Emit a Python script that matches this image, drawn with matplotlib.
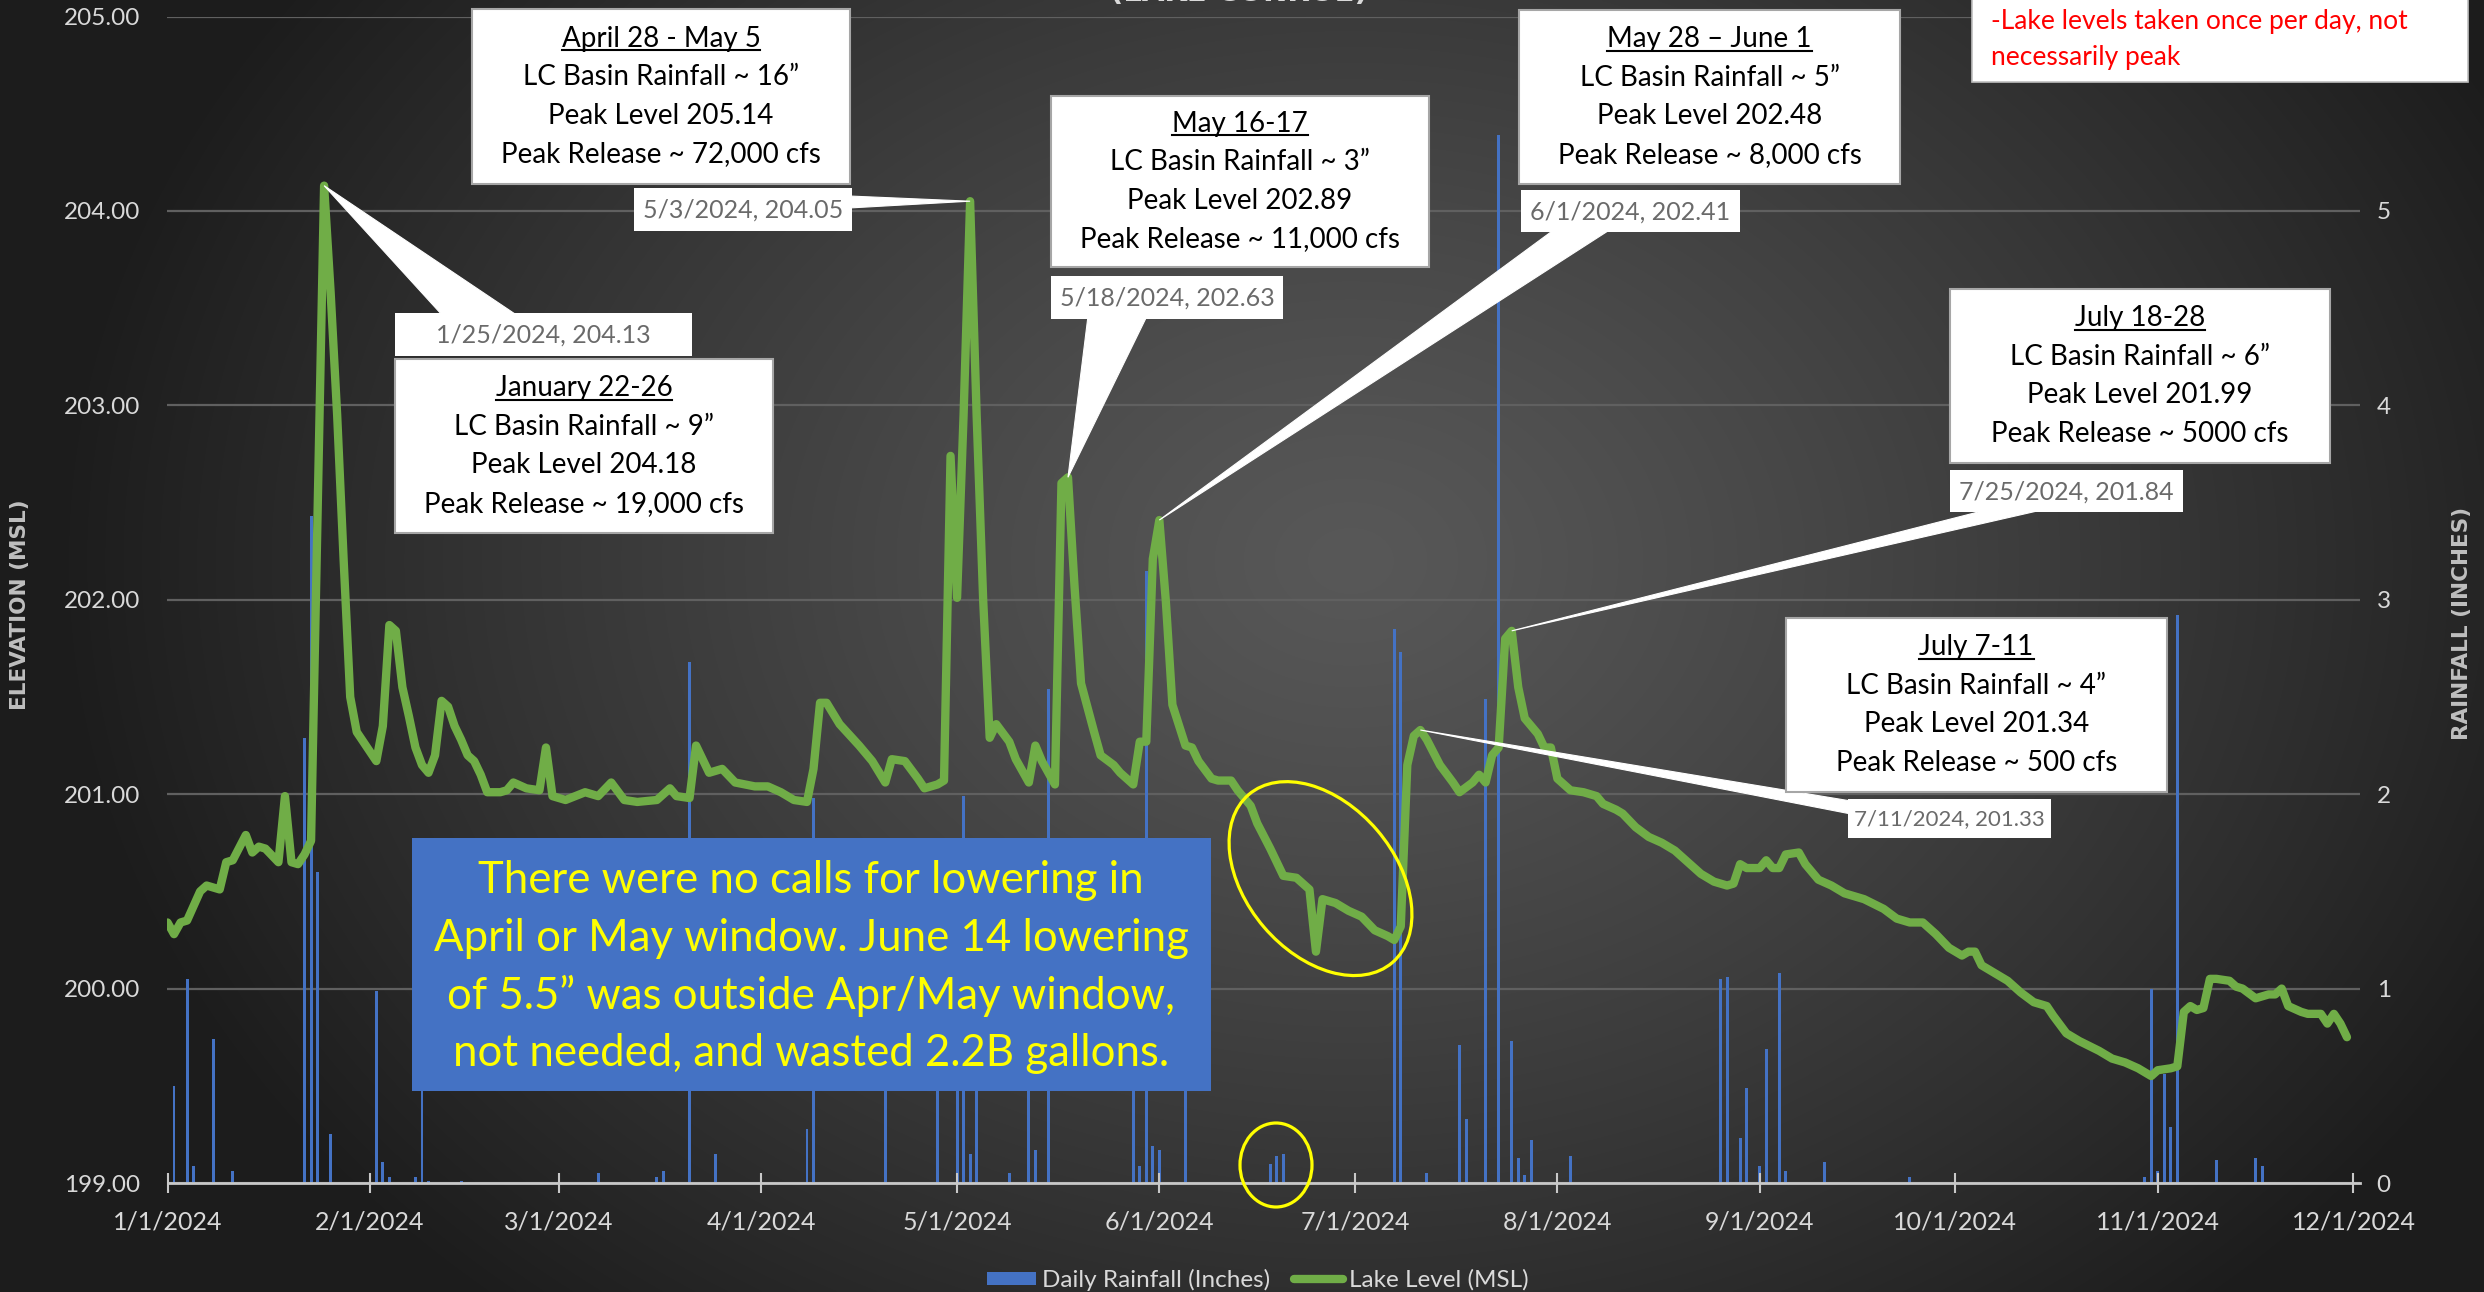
import numpy as np
import pandas as pd
import matplotlib
matplotlib.use("Agg")
import matplotlib.pyplot as plt
import matplotlib.dates as mdates
from matplotlib.patches import Rectangle, Polygon, Ellipse
from matplotlib.lines import Line2D

plt.rcParams['font.family'] = ['Lato', 'DejaVu Sans']

W, H, DPI = 2484, 1292, 100

# ---------------- data ----------------
start = pd.Timestamp('2024-01-01')

# Lake level (MSL) readings, day offset from 1/1/2024
level_day = [0, 1, 2, 3, 5, 6, 8, 9, 10, 12, 13, 14, 15, 17, 18, 19, 20, 21, 22, 23,
             24, 25, 26, 27, 28, 29, 31, 32, 33, 34, 35, 36, 37, 38, 39, 40, 41, 42, 43, 44,
             45, 46, 47, 48, 49, 51, 52, 53, 55, 57, 58, 59, 61, 64, 66, 68, 70, 72, 75, 77,
             78, 80, 81, 83, 85, 87, 90, 92, 94, 96, 98, 99, 100, 101, 103, 106, 108, 110, 111, 113,
             115, 116, 118, 119, 120, 121, 122, 123, 124, 125, 126, 127, 129, 130, 132, 133, 134, 136, 137, 138,
             139, 140, 142, 143, 145, 146, 148, 149, 150, 151, 152, 153, 154, 156, 157, 158, 160, 161, 163, 164,
             166, 167, 169, 171, 173, 175, 176, 177, 179, 181, 183, 185, 187, 188, 189, 190, 191, 192, 193, 195,
             197, 198, 200, 201, 202, 203, 204, 205, 206, 207, 208, 210, 211, 212, 213, 215, 217, 219, 220, 222,
             223, 225, 227, 229, 231, 233, 235, 237, 239, 240, 241, 242, 244, 245, 246, 247, 248, 250, 251, 253,
             255, 257, 260, 263, 265, 267, 269, 271, 273, 275, 276, 277, 278, 280, 282, 284, 286, 288, 289, 291,
             293, 296, 298, 300, 302, 304, 305, 307, 308, 309, 310, 311, 312, 313, 314, 316, 317, 318, 320, 322,
             323, 324, 325, 327, 328, 330, 331, 332, 333, 334]
level_msl = [200.34, 200.28, 200.34, 200.35, 200.50, 200.53, 200.51, 200.65, 200.66, 200.79,
             200.70, 200.73, 200.72, 200.65, 200.99, 200.65, 200.64, 200.69, 200.76, 202.45,
             204.13, 203.58, 202.95, 202.20, 201.50, 201.32, 201.22, 201.17, 201.35, 201.87,
             201.84, 201.55, 201.40, 201.24, 201.15, 201.11, 201.20, 201.48, 201.45, 201.35,
             201.28, 201.20, 201.17, 201.10, 201.01, 201.01, 201.02, 201.06, 201.03, 201.02,
             201.24, 200.99, 200.97, 201.01, 200.99, 201.06, 200.97, 200.96, 200.97, 201.03,
             200.99, 200.98, 201.25, 201.11, 201.13, 201.06, 201.04, 201.04, 201.01, 200.97,
             200.96, 201.13, 201.47, 201.47, 201.36, 201.25, 201.17, 201.06, 201.18, 201.17,
             201.08, 201.03, 201.05, 201.07, 202.74, 202.01, 202.95, 204.05, 202.95, 202.00,
             201.29, 201.36, 201.27, 201.18, 201.06, 201.25, 201.17, 201.05, 202.60, 202.63,
             202.07, 201.57, 201.32, 201.20, 201.15, 201.11, 201.05, 201.27, 201.27, 202.21,
             202.41, 201.99, 201.46, 201.25, 201.24, 201.17, 201.08, 201.07, 201.07, 201.02,
             200.94, 200.85, 200.72, 200.58, 200.57, 200.51, 200.19, 200.46, 200.44, 200.40,
             200.37, 200.30, 200.27, 200.25, 200.32, 201.15, 201.30, 201.33, 201.28, 201.15,
             201.06, 201.01, 201.06, 201.10, 201.06, 201.20, 201.24, 201.80, 201.84, 201.55,
             201.39, 201.31, 201.24, 201.24, 201.08, 201.02, 201.01, 200.99, 200.95, 200.92,
             200.90, 200.83, 200.78, 200.75, 200.71, 200.65, 200.59, 200.55, 200.53, 200.54,
             200.64, 200.62, 200.62, 200.66, 200.62, 200.62, 200.69, 200.70, 200.64, 200.56,
             200.53, 200.49, 200.46, 200.41, 200.36, 200.34, 200.34, 200.28, 200.21, 200.17,
             200.19, 200.19, 200.12, 200.08, 200.04, 199.98, 199.93, 199.91, 199.86, 199.77,
             199.73, 199.68, 199.64, 199.62, 199.59, 199.55, 199.58, 199.59, 199.60, 199.88,
             199.91, 199.89, 199.90, 200.05, 200.05, 200.04, 200.01, 200.00, 199.95, 199.97,
             199.97, 200.00, 199.91, 199.88, 199.87, 199.87, 199.82, 199.87, 199.82, 199.75]

# Daily rainfall (inches), day offset from 1/1/2024
rain_day = [1, 3, 4, 7, 10, 21, 22, 23, 25, 32, 33, 34, 38, 39, 40, 45, 66, 75, 76, 80,
            84, 98, 99, 110, 118, 121, 122, 123, 124, 129, 132, 133, 135, 148, 149, 150, 151, 152, 156,
            169, 170, 171, 188, 189, 193, 198, 199, 202, 204, 206, 207, 208, 209, 215,
            238, 239, 241, 242, 244, 245, 247, 248, 254, 267,
            303, 304, 305, 306, 307, 308, 314, 320, 321]
rain_in = [0.50, 1.05, 0.09, 0.74, 0.06, 2.29, 3.43, 1.60, 0.25, 0.99, 0.11, 0.03, 0.03, 0.48, 0.01, 0.01, 0.05, 0.03, 0.06, 2.68,
           0.15, 0.28, 1.98, 1.20, 0.90, 1.40, 1.99, 0.15, 0.80, 0.05, 1.10, 0.17, 2.54, 1.30, 0.09, 3.15, 0.19, 0.17, 0.90,
           0.10, 0.14, 0.15, 2.85, 2.73, 0.05, 0.71, 0.33, 2.49, 5.39, 0.73, 0.13, 0.04, 0.22, 0.14,
           1.05, 1.06, 0.23, 0.49, 0.09, 0.69, 1.08, 0.06, 0.11, 0.03,
           0.03, 1.00, 0.06, 0.56, 0.29, 2.92, 0.12, 0.13, 0.09]

x_tick_labels = ['1/1/2024', '2/1/2024', '3/1/2024', '4/1/2024', '5/1/2024', '6/1/2024',
                 '7/1/2024', '8/1/2024', '9/1/2024', '10/1/2024', '11/1/2024', '12/1/2024']
elev_ticks = [199, 200, 201, 202, 203, 204, 205]
rain_ticks = [0, 1, 2, 3, 4, 5, 6]
rain_tick_labels = ['0', '1', '2', '3', '4', '5', '']

callout_dates = ['1/25/2024', '5/3/2024', '5/18/2024', '6/1/2024', '7/25/2024', '7/11/2024']
callout_levels = [204.13, 204.05, 202.63, 202.41, 201.84, 201.33]

event_titles = ['April 28 - May 5', 'January 22-26', 'May 16-17', 'May 28 \u2013 June 1', 'July 18-28', 'July 7-11']
event_rain = ['16', '9', '3', '5', '6', '4']
event_peak = ['205.14', '204.18', '202.89', '202.48', '201.99', '201.34']
event_release = ['72,000', '19,000', '11,000', '8,000', '5000', '500']

note_lines = ['There were no calls for lowering in',
              'April or May window. June 14 lowering',
              'of 5.5\u201d was outside Apr/May window,',
              'not needed, and wasted 2.2B gallons.']
red_note_lines = ['-Lake levels taken once per day, not', 'necessarily peak']

# ---------------- derived ----------------
level_dates = start + pd.to_timedelta(level_day, unit='D')
rain_dates = start + pd.to_timedelta(rain_day, unit='D')
tick_dates = pd.to_datetime(x_tick_labels, format='%m/%d/%Y')

GREEN = '#70AD47'
BLUE = '#4472C4'
LIGHT = '#D9D9D9'

fig = plt.figure(figsize=(W / DPI, H / DPI), dpi=DPI)

# background gradient
bg = fig.add_axes([0, 0, 1, 1])
bg.set_zorder(-10)
bg.axis('off')
yy, xx = np.mgrid[0:H:2, 0:W:2]
r = np.sqrt(((xx - 1350) / 1300.0) ** 2 + ((yy - 560) / 1000.0) ** 2)
g = (0x58 - (0x58 - 0x1c) * np.clip(r, 0, 1) ** 1.2) / 255.0
bg.imshow(np.dstack([g, g, g]), extent=[0, W, H, 0], aspect='auto', interpolation='bilinear')
bg.set_xlim(0, W)
bg.set_ylim(H, 0)

# main axes
AX_L, AX_R, AX_T, AX_B = 167.5, 2360, 16.5, 1183
ax = fig.add_axes([AX_L / W, (H - AX_B) / H, (AX_R - AX_L) / W, (AX_B - AX_T) / H])
ax2 = ax.twinx()
ax.set_zorder(ax2.get_zorder() + 1)
ax.patch.set_visible(False)
ax2.patch.set_visible(False)

bars = ax2.bar(rain_dates, rain_in, width=0.45, color=BLUE, zorder=2, label='Daily Rainfall (Inches)')
line, = ax.plot(level_dates, level_msl, color=GREEN, lw=6, solid_joinstyle='round',
                solid_capstyle='round', zorder=3, label='Lake Level (MSL)')

ax.set_xlim(start, pd.Timestamp('2024-12-02'))
ax.set_ylim(199, 205)
ax2.set_ylim(0, 6)

ax.set_xticks(tick_dates)
ax.set_xticklabels(x_tick_labels)
ax.set_yticks(elev_ticks)
ax.set_yticklabels([f'{v:.2f}' for v in elev_ticks])
ax2.set_yticks(rain_ticks)
ax2.set_yticklabels(rain_tick_labels)

ax2.grid(axis='y', color='#606060', lw=1.6)
ax2.set_axisbelow(True)

for s in ax.spines.values():
    s.set_visible(False)
for s in ax2.spines.values():
    s.set_visible(False)
ax.spines['bottom'].set_visible(True)
ax.spines['bottom'].set_color('#C8C8C8')
ax.spines['bottom'].set_linewidth(2)

ax.tick_params(axis='x', direction='inout', length=14, width=1.5, color='#C8C8C8',
               labelcolor=LIGHT, labelsize=18, pad=12.5)
ax.tick_params(axis='y', length=0, labelcolor=LIGHT, labelsize=17.5, pad=19.5)
ax2.tick_params(axis='y', length=0, labelcolor=LIGHT, labelsize=17.5, pad=12)

ax.set_ylabel('ELEVATION (MSL)', family='DejaVu Sans', fontweight='bold', fontsize=15.5, color='#BFBFBF')
ax.yaxis.set_label_coords((30 - AX_L) / (AX_R - AX_L), (AX_B - 605) / (AX_B - AX_T))
ax2.set_ylabel('RAINFALL (INCHES)', family='DejaVu Sans', fontweight='bold', fontsize=15.5, color='#BFBFBF',
               rotation=90)
ax2.yaxis.set_label_coords((2452 - AX_L) / (AX_R - AX_L), (AX_B - 623) / (AX_B - AX_T))

ax.set_title('(LAKE CONROE)', x=(1239 - AX_L) / (AX_R - AX_L), y=(AX_B - 9.5) / (AX_B - AX_T),
             va='baseline', family='DejaVu Sans', fontweight='bold', fontsize=21, color=LIGHT)

fig.legend([bars, line], ['Daily Rainfall (Inches)', 'Lake Level (MSL)'], loc='center',
           bbox_to_anchor=(1258 / W, 1 - 1280 / H), ncol=2, frameon=False, fontsize=17.5,
           labelcolor=LIGHT, handlelength=2.0, handleheight=0.45, handletextpad=0.25, columnspacing=1.0)

# ---------------- overlay annotations (pixel coords, y down) ----------------
ov = fig.add_axes([0, 0, 1, 1])
ov.set_xlim(0, W)
ov.set_ylim(H, 0)
ov.axis('off')
ov.set_zorder(20)
ov.patch.set_visible(False)


def to_ov(date_str, level):
    d = mdates.date2num(pd.to_datetime(date_str, format='%m/%d/%Y'))
    p = ax.transData.transform((d, level))
    return ov.transData.inverted().transform(p)


def box(x0, y0, x1, y1, fc='white', ec='#C8C8C8', lw=1.2, z=2):
    ov.add_patch(Rectangle((x0, y0), x1 - x0, y1 - y0, fc=fc, ec=ec, lw=lw, zorder=z))


# data-label callouts
label_boxes = [(395, 313, 692, 356), (634, 188, 852, 231), (1051, 276, 1283, 319),
               (1521, 190, 1740, 232), (1950, 470, 2183, 512), (1848, 799, 2051, 838)]
label_sizes = [18, 18, 18, 18, 18, 16]
wedge_bases = [((443, 316), (518, 316)), ((849, 196), (849, 208)), ((1088, 316), (1147, 316)),
               ((1555, 229), (1611, 229)), ((1990, 509), (2046, 509)), ((1851, 801), (1851, 814))]
for dstr, lev, bx, wb, fs in zip(callout_dates, callout_levels, label_boxes, wedge_bases, label_sizes):
    apex = to_ov(dstr, lev)
    ov.add_patch(Polygon([wb[0], wb[1], apex], closed=True, fc='white', ec='white', lw=0.8, zorder=1))
    box(*bx, ec='none')
    ov.text((bx[0] + bx[2]) / 2, (bx[1] + bx[3]) / 2 + 1, f'{dstr}, {lev:.2f}', ha='center', va='center',
            fontsize=fs, color='#6A6A6A', zorder=3)

# event boxes
event_boxes = [(472, 9, 850, 184), (395, 359, 773, 533), (1051, 96, 1429, 267),
               (1519, 10, 1900, 184), (1950, 289, 2330, 463), (1786, 618, 2167, 792)]
title_texts = []
for bx, t, rr, pk, rel in zip(event_boxes, event_titles, event_rain, event_peak, event_release):
    box(*bx, ec='#A6A6A6', lw=1.5)
    cx = (bx[0] + bx[2]) / 2
    cy = (bx[1] + bx[3]) / 2 - 1
    lines = [t, f'LC Basin Rainfall ~ {rr}\u201d', f'Peak Level {pk}', f'Peak Release ~ {rel} cfs']
    for i, s in enumerate(lines):
        yl = cy + (i - 1.5) * 38.5
        tt = ov.text(cx, yl + 9, s, ha='center', va='baseline', fontsize=20, color='black', zorder=3)
        if i == 0:
            title_texts.append((tt, yl + 12.5))

# blue note box
box(411.5, 838, 1211, 1091, fc=BLUE, ec='none')
for i, s in enumerate(note_lines):
    ov.text(811, 967 + (i - 1.5) * 57.7, s, ha='center', va='center', fontsize=31.5, color='#FFFF00', zorder=3)

# red note box
box(1972, -10, 2468, 82, ec='#BFBFBF', lw=1.2)
for i, s in enumerate(red_note_lines):
    ov.text(1991, 22 + i * 35, s, ha='left', va='center', fontsize=19, color='#FF0000', zorder=3)

# yellow ellipses
ov.add_patch(Ellipse((1320.5, 878.6), 221, 149, angle=49.5, fill=False, ec='#FFFF00', lw=2.3, zorder=4))
ov.add_patch(Ellipse((1276, 1165), 72, 84, angle=0, fill=False, ec='#FFFF00', lw=2.3, zorder=4))

# underline titles
renderer = fig.canvas.get_renderer()
inv = ov.transData.inverted()
for tt, yu in title_texts:
    bb = tt.get_window_extent(renderer=renderer)
    x0 = inv.transform((bb.x0, bb.y0))[0]
    x1 = inv.transform((bb.x1, bb.y0))[0]
    ov.add_line(Line2D([x0, x1], [yu, yu], color='black', lw=1.5, zorder=3))

fig.savefig('out.png', dpi=DPI)
